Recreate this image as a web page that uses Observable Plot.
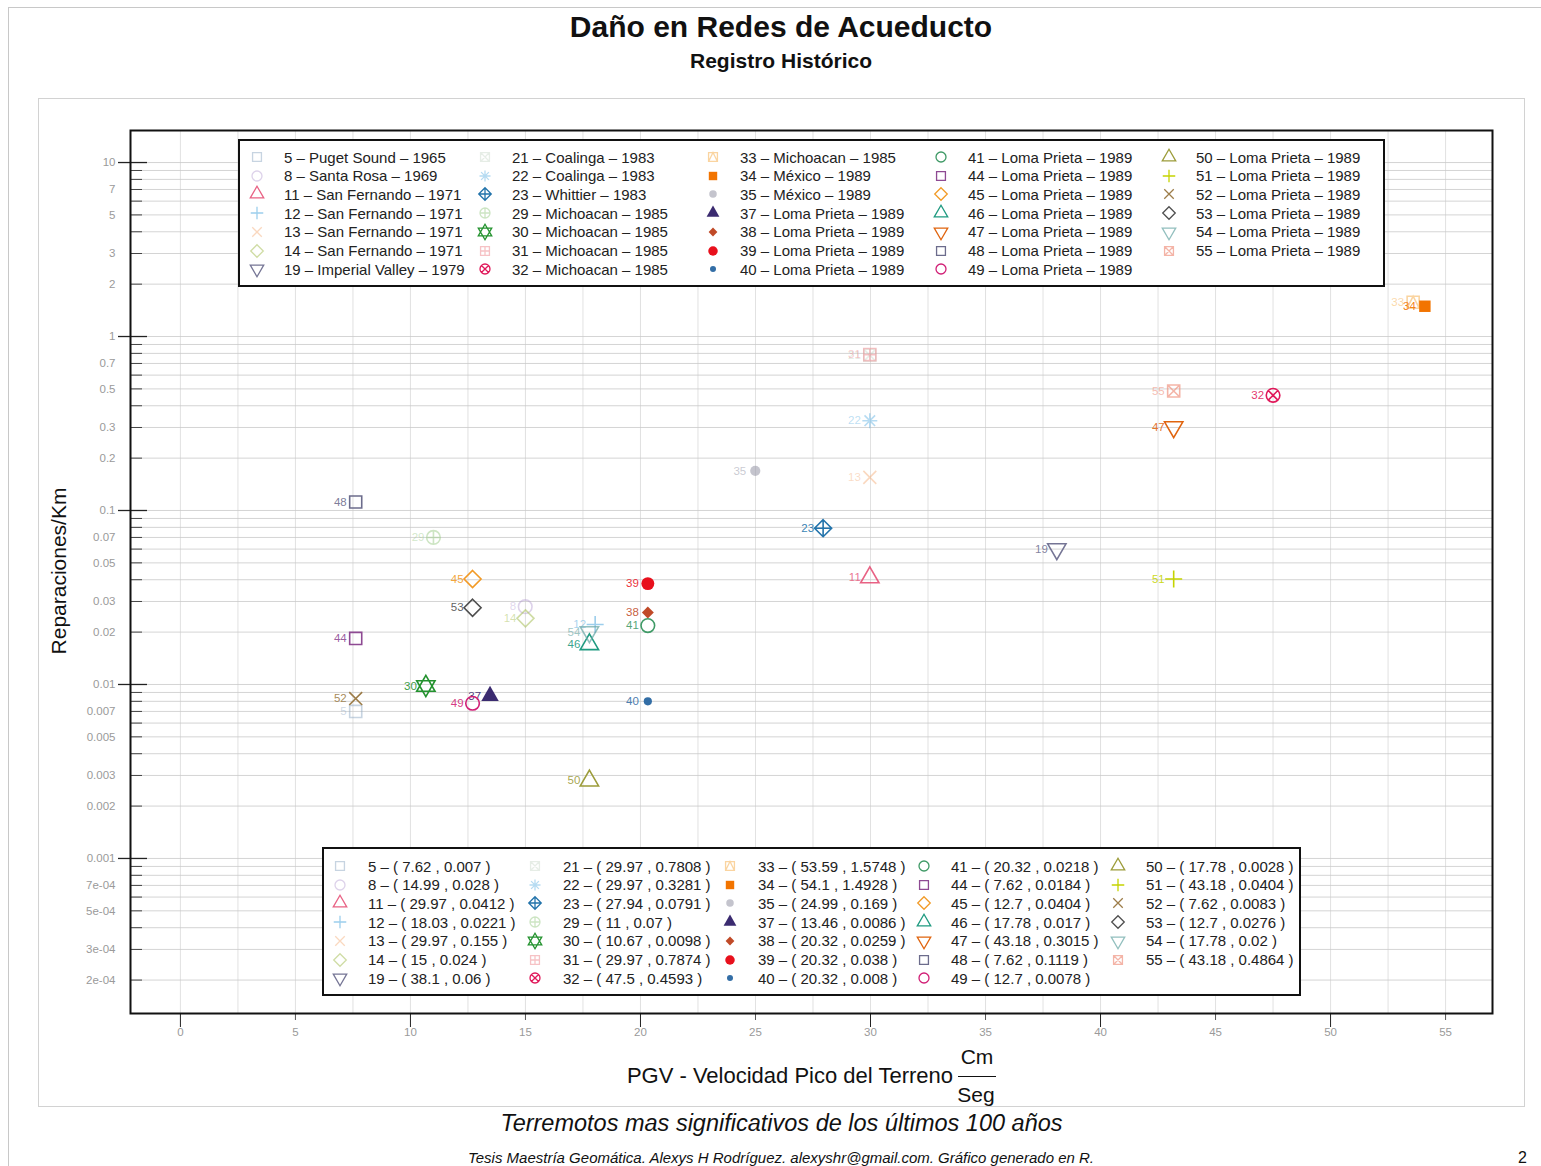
<!DOCTYPE html>
<html>
<head>
<meta charset="utf-8">
<script src="https://cdn.jsdelivr.net/npm/d3@7"></script>
<script src="https://cdn.jsdelivr.net/npm/@observablehq/plot@0.6"></script>
<style>
  body { margin: 0; background: #fff; font-family: "Liberation Sans", Arial, sans-serif; color: #111; }
  #page { position: relative; width: 1541px; height: 1166px; overflow: hidden; }
  .abs { position: absolute; white-space: nowrap; }
  .narrow { font-family: "Liberation Sans Narrow", "Liberation Sans", Arial, sans-serif; }
  .legend { position: absolute; border: 2px solid #111; background: #fff; box-sizing: border-box; }
  .entry { position: absolute; font-size: 15px; line-height: 15px; color: #222; white-space: nowrap; }
  .sym { position: absolute; width: 16px; height: 16px; overflow: visible; }
</style>
</head>
<body>
<div id="page"></div>
<script>
// ---- Earthquake records: id, event, year, PGV (cm/s) and repairs per km ----
const ids    = [5, 8, 11, 12, 13, 14, 19, 21, 22, 23, 29, 30, 31, 32, 33, 34, 35,
                37, 38, 39, 40, 41, 44, 45, 46, 47, 48, 49, 50, 51, 52, 53, 54, 55];
const events = ["Puget Sound", "Santa Rosa", "San Fernando", "San Fernando", "San Fernando",
                "San Fernando", "Imperial Valley", "Coalinga", "Coalinga", "Whittier",
                "Michoacan", "Michoacan", "Michoacan", "Michoacan", "Michoacan", "México", "México",
                "Loma Prieta", "Loma Prieta", "Loma Prieta", "Loma Prieta", "Loma Prieta",
                "Loma Prieta", "Loma Prieta", "Loma Prieta", "Loma Prieta", "Loma Prieta",
                "Loma Prieta", "Loma Prieta", "Loma Prieta", "Loma Prieta", "Loma Prieta",
                "Loma Prieta", "Loma Prieta"];
const years  = [1965, 1969, 1971, 1971, 1971, 1971, 1979, 1983, 1983, 1983, 1985, 1985, 1985,
                1985, 1985, 1989, 1989, 1989, 1989, 1989, 1989, 1989, 1989, 1989, 1989, 1989,
                1989, 1989, 1989, 1989, 1989, 1989, 1989, 1989];
const pgv    = [7.62, 14.99, 29.97, 18.03, 29.97, 15, 38.1, 29.97, 29.97, 27.94, 11, 10.67,
                29.97, 47.5, 53.59, 54.1, 24.99, 13.46, 20.32, 20.32, 20.32, 20.32, 7.62, 12.7,
                17.78, 43.18, 7.62, 12.7, 17.78, 43.18, 7.62, 12.7, 17.78, 43.18];
const rate   = [0.007, 0.028, 0.0412, 0.0221, 0.155, 0.024, 0.06, 0.7808, 0.3281, 0.0791, 0.07,
                0.0098, 0.7874, 0.4593, 1.5748, 1.4928, 0.169, 0.0086, 0.0259, 0.038, 0.008,
                0.0218, 0.0184, 0.0404, 0.017, 0.3015, 0.1119, 0.0078, 0.0028, 0.0404, 0.0083,
                0.0276, 0.02, 0.4864];

// Axis tick values
const xTicks      = [0, 5, 10, 15, 20, 25, 30, 35, 40, 45, 50, 55];
const xMajorTicks = [0, 10, 20, 30, 40, 50];
const xMinorTicks = [5, 15, 25, 35, 45, 55];
const yDecades    = [0.001, 0.01, 0.1, 1, 10];
const yLabels     = [10, 7, 5, 3, 2, 1, 0.7, 0.5, 0.3, 0.2, 0.1, 0.07, 0.05, 0.03, 0.02,
                     0.01, 0.007, 0.005, 0.003, 0.002, 0.001, 7e-4, 5e-4, 3e-4, 2e-4];

// ---- Marker shapes in the style of R's pch codes ----
const SQ3 = Math.sqrt(3);
function rad(size) { return Math.sqrt(size / Math.PI); }
const shapes = {
  square:  {draw(c, s) { const h = Math.sqrt(s) / 2; c.rect(-h, -h, 2 * h, 2 * h); }},
  circle:  {draw(c, s) { const r = rad(s); c.moveTo(r, 0); c.arc(0, 0, r, 0, 2 * Math.PI); }},
  triUp:   {draw(c, s) { const y = -Math.sqrt(s / (SQ3 * 3)); c.moveTo(0, 2 * y); c.lineTo(-SQ3 * y, -y); c.lineTo(SQ3 * y, -y); c.closePath(); }},
  triDown: {draw(c, s) { const y = -Math.sqrt(s / (SQ3 * 3)); c.moveTo(0, -2 * y); c.lineTo(-SQ3 * y, y); c.lineTo(SQ3 * y, y); c.closePath(); }},
  plus:    {draw(c, s) { const r = rad(s) * 1.25; c.moveTo(-r, 0); c.lineTo(r, 0); c.moveTo(0, -r); c.lineTo(0, r); }},
  times:   {draw(c, s) { const r = rad(s) * 0.95; c.moveTo(-r, -r); c.lineTo(r, r); c.moveTo(r, -r); c.lineTo(-r, r); }},
  diamond: {draw(c, s) { const d = 0.707 * Math.sqrt(s); c.moveTo(0, -d); c.lineTo(d, 0); c.lineTo(0, d); c.lineTo(-d, 0); c.closePath(); }},
  asterisk:{draw(c, s) { const r = rad(s) * 1.1, q = r * 0.707; c.moveTo(-r, 0); c.lineTo(r, 0); c.moveTo(0, -r); c.lineTo(0, r); c.moveTo(-q, -q); c.lineTo(q, q); c.moveTo(q, -q); c.lineTo(-q, q); }},
  squareX: {draw(c, s) { const h = Math.sqrt(s) / 2; c.rect(-h, -h, 2 * h, 2 * h); c.moveTo(-h, -h); c.lineTo(h, h); c.moveTo(h, -h); c.lineTo(-h, h); }},
  diamondPlus: {draw(c, s) { const d = 0.707 * Math.sqrt(s); c.moveTo(0, -d); c.lineTo(d, 0); c.lineTo(0, d); c.lineTo(-d, 0); c.closePath(); c.moveTo(-d, 0); c.lineTo(d, 0); c.moveTo(0, -d); c.lineTo(0, d); }},
  circlePlus:  {draw(c, s) { const r = rad(s); c.moveTo(r, 0); c.arc(0, 0, r, 0, 2 * Math.PI); c.moveTo(-r, 0); c.lineTo(r, 0); c.moveTo(0, -r); c.lineTo(0, r); }},
  star6:   {draw(c, s) { shapes.triUp.draw(c, s); shapes.triDown.draw(c, s); }},
  squarePlus:  {draw(c, s) { const h = Math.sqrt(s) / 2; c.rect(-h, -h, 2 * h, 2 * h); c.moveTo(-h, 0); c.lineTo(h, 0); c.moveTo(0, -h); c.lineTo(0, h); }},
  circleX: {draw(c, s) { const r = rad(s), q = r * 0.707; c.moveTo(r, 0); c.arc(0, 0, r, 0, 2 * Math.PI); c.moveTo(-q, -q); c.lineTo(q, q); c.moveTo(q, -q); c.lineTo(-q, q); }},
  squareTri: {draw(c, s) { const h = Math.sqrt(s) / 2; c.rect(-h, -h, 2 * h, 2 * h); c.moveTo(-h, h); c.lineTo(0, -h); c.lineTo(h, h); }}
};

// pch code -> shape, filled?, relative size
const pch = {
  0: ["square", false, 1], 1: ["circle", false, 1], 2: ["triUp", false, 1], 3: ["plus", false, 1],
  4: ["times", false, 1], 5: ["diamond", false, 1], 6: ["triDown", false, 1], 7: ["squareX", false, 1],
  8: ["asterisk", false, 1], 9: ["diamondPlus", false, 1], 10: ["circlePlus", false, 1], 11: ["star6", false, 1],
  12: ["squarePlus", false, 1], 13: ["circleX", false, 1], 14: ["squareTri", false, 1], 15: ["square", true, 0.95],
  16: ["circle", true, 0.75], 17: ["triUp", true, 0.95], 18: ["diamond", true, 0.7], 19: ["circle", true, 0.95],
  20: ["circle", true, 0.6], 21: ["circle", false, 1], 22: ["square", false, 1], 23: ["diamond", false, 1],
  24: ["triUp", false, 1], 25: ["triDown", false, 1]
};

// Styling per record: pch code, colour and transparency
const styleById = {
  5:  {pch: 0,  color: "#8fa9c4", alpha: 0.5},
  8:  {pch: 1,  color: "#b49bd0", alpha: 0.45},
  11: {pch: 2,  color: "#e4476f", alpha: 0.85},
  12: {pch: 3,  color: "#5aaee0", alpha: 0.6},
  13: {pch: 4,  color: "#f3a872", alpha: 0.45},
  14: {pch: 5,  color: "#a8bf5a", alpha: 0.55},
  19: {pch: 6,  color: "#66668a", alpha: 0.9},
  21: {pch: 7,  color: "#b8cbb8", alpha: 0.35},
  22: {pch: 8,  color: "#6cb8e6", alpha: 0.5},
  23: {pch: 9,  color: "#2273ab", alpha: 1},
  29: {pch: 10, color: "#9ccc88", alpha: 0.5},
  30: {pch: 11, color: "#23922e", alpha: 1},
  31: {pch: 12, color: "#ee8f95", alpha: 0.55},
  32: {pch: 13, color: "#e0185a", alpha: 1},
  33: {pch: 14, color: "#f7b860", alpha: 0.6},
  34: {pch: 15, color: "#f27400", alpha: 1},
  35: {pch: 16, color: "#9c9cab", alpha: 0.6},
  37: {pch: 17, color: "#3b2b70", alpha: 1},
  38: {pch: 18, color: "#c04a28", alpha: 1},
  39: {pch: 19, color: "#e8101c", alpha: 1},
  40: {pch: 20, color: "#336ea6", alpha: 1},
  41: {pch: 21, color: "#3f9a66", alpha: 1},
  44: {pch: 22, color: "#8e4a93", alpha: 1},
  45: {pch: 23, color: "#f29a26", alpha: 1},
  46: {pch: 24, color: "#1f9a80", alpha: 1},
  47: {pch: 25, color: "#e0640e", alpha: 1},
  48: {pch: 0,  color: "#6c6c8c", alpha: 1},
  49: {pch: 1,  color: "#d11f76", alpha: 1},
  50: {pch: 2,  color: "#9c9c3a", alpha: 1},
  51: {pch: 3,  color: "#c5d400", alpha: 1},
  52: {pch: 4,  color: "#9c7c48", alpha: 1},
  53: {pch: 5,  color: "#4e4e4e", alpha: 1},
  54: {pch: 6,  color: "#6eaaa8", alpha: 0.75},
  55: {pch: 7,  color: "#ef9482", alpha: 0.7}
};

const records = ids.map((id, i) => ({id, event: events[i], year: years[i], pgv: pgv[i], rate: rate[i]}));

function markerOf(id) {
  const st = styleById[id];
  const [shape, filled, k] = pch[st.pch];
  return {symbol: shapes[shape], filled, k, color: st.color, alpha: st.alpha};
}

function yFormat(v) {
  return v >= 0.001 ? String(v) : v.toExponential(0).replace(/e-(\d)$/, "e-0$1");
}

// Minor log ticks (2..9 within each decade) and vertical grid every 2.5
const yMinor = yDecades.concat([0.0001]).flatMap(d => [2, 3, 4, 5, 6, 7, 8, 9].map(m => +(d * m).toPrecision(2)))
  .filter(v => v > 1.29e-4 && v < 15);
const yGrid = yDecades.concat(yMinor);
const xGrid = d3.range(0, 57.5, 2.5);

// Plot frame geometry
const W = 1541, H = 1166, ML = 130, MR = 49, MT = 130, MB = 153;
const frameW = W - ML - MR;

const R = 6.8;
const pointMarks = records.flatMap(d => {
  const m = markerOf(d.id);
  return [
    Plot.dot([d], {
      x: "pgv", y: "rate", symbol: m.symbol, r: R * m.k,
      fill: m.filled ? m.color : "none", stroke: m.filled ? "none" : m.color,
      strokeWidth: 1.6, opacity: m.alpha
    }),
    Plot.text([d], {
      x: "pgv", y: "rate", text: r => String(r.id), dx: -9, textAnchor: "end",
      fill: m.color, fillOpacity: Math.max(0.4, m.alpha * 0.9), fontSize: 11.5,
      fontFamily: "'Liberation Sans Narrow', 'Liberation Sans', Arial, sans-serif"
    })
  ];
});

const chart = Plot.plot({
  width: W, height: H,
  marginTop: MT, marginLeft: ML, marginRight: MR, marginBottom: MB,
  style: {background: "transparent", overflow: "visible",
          fontFamily: "'Liberation Sans Narrow', 'Liberation Sans', Arial, sans-serif"},
  x: {domain: [-2.17, 57.04]},
  y: {type: "log", domain: [1.285e-4, 15.28], axis: null},
  marks: [
    Plot.gridX(xGrid, {stroke: "#d4d4d4", strokeOpacity: 0.7, strokeWidth: 1}),
    Plot.gridY(yGrid, {stroke: "#c9c9c9", strokeOpacity: 0.8, strokeWidth: 1}),
    // x axis: long ticks every 10, short ticks at the fives, grey labels
    Plot.axisX(xMajorTicks, {anchor: "bottom", tickSize: 14, fill: "none", stroke: "#222", label: null}),
    Plot.axisX(xMinorTicks, {anchor: "bottom", tickSize: 7, fill: "none", stroke: "#555", label: null}),
    Plot.axisX(xTicks, {anchor: "bottom", tickSize: 0, tickPadding: 14, fill: "#9a9a9a", fontSize: 11.5, label: null}),
    // y axis: decade ticks cross the frame, minor ticks sit inside it
    Plot.ruleY(yDecades, {y: d => d, stroke: "#222", strokeWidth: 1.3, insetLeft: -12, insetRight: frameW - 17}),
    Plot.ruleY(yMinor, {y: d => d, stroke: "#444", strokeWidth: 1, insetRight: frameW - 12}),
    Plot.text(yLabels, {y: d => d, text: yFormat, frameAnchor: "left", dx: -15, textAnchor: "end",
                        fill: "#9a9a9a", fontSize: 11.5}),
    ...pointMarks,
    Plot.frame({stroke: "#111", strokeWidth: 2})
  ]
});

// ---- Page assembly ----
const page = document.getElementById("page");
function add(html, css, cls = "abs") {
  const el = document.createElement("div");
  el.className = cls;
  el.innerHTML = html;
  Object.assign(el.style, css);
  page.appendChild(el);
  return el;
}

// outer sheet edge and chart panel
add("", {left: "8px", top: "7px", width: "1600px", height: "1200px", borderLeft: "1px solid #c8c8c8", borderTop: "1px solid #c8c8c8"});
add("", {left: "38px", top: "98px", width: "1487px", height: "1009px", border: "1px solid #d2d2d2", boxSizing: "border-box"});

chart.style.position = "absolute";
chart.style.left = "0px";
chart.style.top = "0px";
page.appendChild(chart);

add("Daño en Redes de Acueducto", {left: "0px", width: "1562px", top: "12px", textAlign: "center", fontSize: "30px", lineHeight: "30px", fontWeight: "bold"});
add("Registro Histórico", {left: "0px", width: "1562px", top: "50px", textAlign: "center", fontSize: "21px", lineHeight: "21px", fontWeight: "bold"});

add("Reparaciones/Km", {left: "58px", top: "571px", fontSize: "21px", lineHeight: "21px", transform: "translate(-50%, -50%) rotate(-90deg)"}, "abs narrow");

add("PGV - Velocidad Pico del Terreno", {right: "588px", top: "1065px", fontSize: "22px", lineHeight: "22px"}, "abs narrow");
add("Cm", {left: "977px", top: "1046px", fontSize: "21px", lineHeight: "21px", transform: "translateX(-50%)"}, "abs narrow");
add("", {left: "958px", top: "1076px", width: "38px", height: "0px", borderTop: "1.5px solid #111"});
add("Seg", {left: "976px", top: "1084px", fontSize: "21px", lineHeight: "21px", transform: "translateX(-50%)"}, "abs narrow");

add("Terremotos mas significativos de los últimos 100 años", {left: "0px", width: "1563px", top: "1111px", textAlign: "center", fontSize: "23.5px", lineHeight: "24px", fontStyle: "italic"});
add("Tesis Maestría Geomática. Alexys H Rodríguez. alexyshr@gmail.com. Gráfico generado en R.", {left: "0px", width: "1562px", top: "1150px", textAlign: "center", fontSize: "15px", lineHeight: "15px", fontStyle: "italic"});
add("2", {left: "1518px", top: "1150px", fontSize: "16px", lineHeight: "16px"});

// ---- Legends drawn over the plotting area ----
function legendSymbol(id, cx, cy) {
  const m = markerOf(id);
  const size = Math.PI * Math.pow(5.0 * m.k, 2);
  const path = d3.symbol(m.symbol, size)();
  const svg = d3.create("svg").attr("class", "sym").attr("width", 16).attr("height", 16)
    .attr("viewBox", "-8 -8 16 16")
    .style("left", (cx - 8) + "px").style("top", (cy - 8) + "px");
  svg.append("path").attr("d", path)
    .attr("fill", m.filled ? m.color : "none").attr("stroke", m.filled ? "none" : m.color)
    .attr("stroke-width", 1.3).attr("opacity", m.alpha);
  page.appendChild(svg.node());
}

function legend(box, colX, textX, rowY0, rowStep, label) {
  add("", {left: box[0] + "px", top: box[1] + "px", width: box[2] + "px", height: box[3] + "px"}, "legend");
  records.forEach((d, i) => {
    const c = Math.floor(i / 7), r = i % 7;
    const y = rowY0 + r * rowStep;
    legendSymbol(d.id, colX[c], y);
    add(label(d), {left: textX[c] + "px", top: (y - 7.5) + "px"}, "entry");
  });
}

legend([238, 139, 1147, 148], [257, 485, 713, 941, 1169], [284, 512, 740, 968, 1196], 157, 18.7,
       d => `${d.id} – ${d.event} – ${d.year}`);
legend([322, 847, 979, 149], [340, 535, 730, 924, 1118], [368, 563, 758, 951, 1146], 866, 18.7,
       d => `${d.id} – ( ${d.pgv} , ${d.rate} )`);
</script>
</body>
</html>
